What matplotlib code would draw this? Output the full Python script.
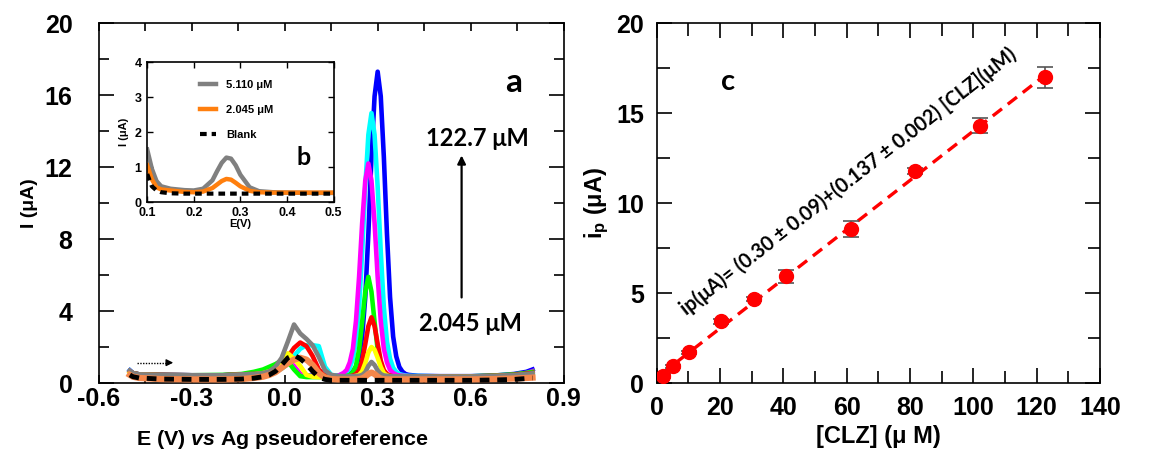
import numpy as np
import matplotlib.pyplot as plt
from matplotlib.ticker import MultipleLocator

plt.rcParams['font.family'] = ['Liberation Sans', 'DejaVu Sans']
plt.rcParams['font.weight'] = 'bold'
plt.rcParams['axes.labelweight'] = 'bold'
plt.rcParams['mathtext.fontset'] = 'custom'
plt.rcParams['mathtext.rm'] = 'Liberation Sans:bold'
plt.rcParams['mathtext.bf'] = 'Liberation Sans:bold'
plt.rcParams['mathtext.it'] = 'Liberation Sans:bold:italic'

# ---- panel a: voltammograms (E in V, I in uA) ----
E = [-0.50, -0.49, -0.47, -0.40, -0.30, -0.20, -0.14, -0.10, -0.07, -0.05,
     -0.03, -0.01, 0.01, 0.03, 0.05, 0.07, 0.09, 0.11, 0.13, 0.15,
     0.17, 0.19, 0.20, 0.21, 0.22, 0.23, 0.24, 0.25, 0.26, 0.27,
     0.28, 0.29, 0.30, 0.31, 0.32, 0.33, 0.34, 0.35, 0.36, 0.37,
     0.38, 0.39, 0.40, 0.43, 0.50, 0.60, 0.68, 0.74, 0.78, 0.80]

i_blue = [0.70, 0.55, 0.48, 0.45, 0.43, 0.43, 0.48, 0.50, 0.55, 0.65,
          0.80, 1.10, 1.20, 0.85, 0.50, 0.42, 0.40, 0.40, 0.40, 0.40,
          0.40, 0.40, 0.43, 0.50, 0.63, 0.89, 1.48, 2.58, 4.77, 8.30,
          12.55, 15.93, 17.30, 15.93, 12.55, 8.30, 4.77, 2.58, 1.48, 0.89,
          0.63, 0.50, 0.45, 0.40, 0.38, 0.38, 0.42, 0.50, 0.62, 0.75]
i_cyan = [0.70, 0.55, 0.48, 0.45, 0.43, 0.43, 0.48, 0.50, 0.52, 0.55,
          0.62, 0.80, 1.05, 1.50, 1.90, 2.10, 2.10, 2.05, 0.90, 0.45,
          0.40, 0.50, 0.62, 0.84, 1.35, 2.30, 4.20, 7.30, 10.90, 13.80,
          15.00, 13.80, 10.90, 7.30, 4.20, 2.30, 1.35, 0.84, 0.62, 0.50,
          0.45, 0.42, 0.40, 0.39, 0.37, 0.37, 0.40, 0.45, 0.52, 0.58]
i_magenta = [0.68, 0.55, 0.48, 0.45, 0.43, 0.43, 0.45, 0.48, 0.55, 0.62,
             0.75, 1.00, 1.25, 0.95, 0.50, 0.38, 0.36, 0.36, 0.36, 0.36,
             0.38, 0.56, 0.73, 1.15, 1.90, 3.45, 5.90, 8.90, 11.25, 12.20,
             11.25, 8.90, 5.90, 3.45, 1.90, 1.15, 0.73, 0.56, 0.46, 0.42,
             0.40, 0.39, 0.38, 0.37, 0.36, 0.37, 0.40, 0.46, 0.56, 0.66]
i_green = [0.65, 0.55, 0.48, 0.45, 0.43, 0.45, 0.50, 0.62, 0.75, 0.90,
           1.05, 1.25, 1.20, 0.75, 0.38, 0.33, 0.33, 0.33, 0.33, 0.33,
           0.34, 0.36, 0.39, 0.45, 0.60, 0.96, 1.85, 3.40, 5.07, 5.90,
           5.07, 3.40, 1.85, 0.96, 0.60, 0.45, 0.39, 0.36, 0.35, 0.35,
           0.35, 0.35, 0.35, 0.35, 0.35, 0.37, 0.42, 0.48, 0.56, 0.62]
i_red = [0.65, 0.55, 0.48, 0.45, 0.43, 0.43, 0.48, 0.50, 0.55, 0.60,
         0.75, 1.10, 1.45, 1.95, 2.25, 2.05, 1.50, 0.75, 0.42, 0.38,
         0.37, 0.36, 0.36, 0.37, 0.41, 0.50, 0.71, 1.24, 2.17, 3.16,
         3.65, 3.16, 2.17, 1.24, 0.71, 0.50, 0.41, 0.37, 0.36, 0.35,
         0.35, 0.35, 0.35, 0.35, 0.35, 0.36, 0.40, 0.45, 0.52, 0.56]
i_yellow = [0.62, 0.52, 0.46, 0.43, 0.42, 0.42, 0.45, 0.48, 0.55, 0.65,
            0.75, 1.10, 1.65, 1.35, 0.95, 0.45, 0.35, 0.33, 0.33, 0.33,
            0.33, 0.33, 0.33, 0.34, 0.36, 0.40, 0.45, 0.65, 1.10, 1.70,
            2.00, 1.85, 1.40, 0.90, 0.55, 0.42, 0.37, 0.35, 0.34, 0.34,
            0.34, 0.34, 0.34, 0.34, 0.34, 0.35, 0.38, 0.42, 0.47, 0.50]
i_gray = [0.68, 0.55, 0.48, 0.45, 0.43, 0.43, 0.48, 0.50, 0.55, 0.65,
          0.90, 1.40, 2.30, 3.25, 2.75, 2.45, 2.10, 1.45, 0.70, 0.45,
          0.40, 0.38, 0.38, 0.38, 0.38, 0.39, 0.40, 0.45, 0.60, 0.95,
          1.17, 1.00, 0.70, 0.50, 0.42, 0.40, 0.38, 0.38, 0.38, 0.38,
          0.38, 0.38, 0.38, 0.37, 0.36, 0.36, 0.40, 0.44, 0.50, 0.54]
i_orange = [0.45, 0.35, 0.28, 0.22, 0.20, 0.20, 0.22, 0.28, 0.35, 0.45,
            0.60, 0.85, 1.10, 1.30, 1.40, 1.30, 1.00, 0.55, 0.30, 0.22,
            0.20, 0.20, 0.20, 0.20, 0.20, 0.20, 0.22, 0.25, 0.35, 0.50,
            0.58, 0.50, 0.35, 0.25, 0.21, 0.20, 0.20, 0.20, 0.20, 0.20,
            0.20, 0.20, 0.20, 0.20, 0.20, 0.20, 0.22, 0.25, 0.28, 0.30]
i_blank = [0.45, 0.35, 0.28, 0.22, 0.20, 0.20, 0.22, 0.27, 0.35, 0.45,
           0.65, 1.00, 1.40, 1.55, 1.35, 1.05, 0.65, 0.32, 0.20, 0.15,
           0.15, 0.15, 0.15, 0.15, 0.15, 0.15, 0.15, 0.15, 0.15, 0.15,
           0.15, 0.15, 0.15, 0.15, 0.15, 0.15, 0.15, 0.15, 0.15, 0.15,
           0.15, 0.15, 0.15, 0.15, 0.15, 0.15, 0.17, 0.20, 0.25, 0.28]

a_xticks = [-0.6, -0.3, 0.0, 0.3, 0.6, 0.9]
a_xlabels = ['-0.6', '-0.3', '0.0', '0.3', '0.6', '0.9']

# ---- panel b: inset zoom on the lowest concentrations ----
E_in = [0.10, 0.11, 0.12, 0.13, 0.15, 0.18, 0.20, 0.22, 0.24, 0.25, 0.26,
        0.27, 0.28, 0.29, 0.30, 0.32, 0.34, 0.37, 0.40, 0.45, 0.50]
in_5110 = [1.50, 0.95, 0.60, 0.45, 0.38, 0.34, 0.33, 0.38, 0.62, 0.88, 1.12,
           1.27, 1.24, 1.05, 0.78, 0.42, 0.31, 0.28, 0.27, 0.26, 0.26]
in_2045 = [1.05, 0.65, 0.42, 0.36, 0.33, 0.29, 0.28, 0.30, 0.40, 0.50, 0.60,
           0.66, 0.64, 0.55, 0.45, 0.32, 0.28, 0.27, 0.27, 0.27, 0.27]
in_blank = [0.80, 0.45, 0.33, 0.28, 0.25, 0.24, 0.24, 0.24, 0.24, 0.24, 0.24,
            0.24, 0.24, 0.24, 0.24, 0.24, 0.24, 0.24, 0.24, 0.24, 0.24]

# ---- panel c: calibration ----
conc = [2.045, 5.11, 10.2, 20.4, 30.6, 40.8, 61.3, 81.7, 102.1, 122.7]
ip = [0.40, 0.92, 1.70, 3.42, 4.68, 5.92, 8.55, 11.78, 14.30, 16.98]
ip_err = [0.10, 0.10, 0.10, 0.12, 0.12, 0.37, 0.46, 0.15, 0.41, 0.57]
fit_x = [2.0, 124.0]
fit_y = [0.57, 17.29]

calib = 'Lato'

fig = plt.figure(figsize=(11.5, 4.53), dpi=100)
ax = fig.add_axes([0.086, 0.1545, 0.404, 0.7945])
axc = fig.add_axes([0.571, 0.1545, 0.3855, 0.7945])
axin = fig.add_axes([0.128, 0.554, 0.162, 0.309])

curves = [(i_blue, '#0000ff'), (i_cyan, '#00ffff'), (i_magenta, '#ff00ff'),
          (i_green, '#00ff00'), (i_red, '#ff0000'), (i_yellow, '#ffff00'),
          (i_gray, '#808080')]
for k, (vals, col) in enumerate(curves):
    ax.plot(E, vals, color=col, lw=3.3, zorder=2 + k * 0.1)
ax.plot(E, i_orange, color='#f4874b', lw=4.5, zorder=3)
ax.plot(E, i_blank, color='k', lw=3.5, ls=(0, (2.0, 1.6)), zorder=3.1)

ax.set_xlim(-0.6, 0.9)
ax.set_ylim(0, 20)
ax.set_xticks(a_xticks, labels=a_xlabels)
ax.xaxis.set_minor_locator(MultipleLocator(0.15))
ax.yaxis.set_major_locator(MultipleLocator(4))
ax.yaxis.set_minor_locator(MultipleLocator(2))
ax.tick_params(which='both', direction='in', top=True, right=True, width=1.2,
               labelsize=18)
ax.tick_params(axis='y', which='major', length=11, pad=19)
ax.tick_params(axis='y', which='minor', length=7)
ax.tick_params(axis='x', which='both', length=6, pad=3)
ax.set_xlabel('E (V) $\\mathit{vs}$ Ag pseudoreference', fontsize=15.4,
              fontweight='bold', labelpad=12, x=0.394)
ax.set_ylabel('I (\u03bcA)', fontsize=14, fontweight='bold', labelpad=5)

# direction of scan + concentration arrow
ax.plot([-0.478, -0.375], [1.13, 1.13], color='k', lw=1, ls=(0, (1, 1)))
ax.annotate('', xy=(-0.351, 1.13), xytext=(-0.38, 1.13),
            arrowprops=dict(arrowstyle='-|>', color='k', lw=1, mutation_scale=10))
ax.annotate('', xy=(0.571, 12.8), xytext=(0.571, 4.6),
            arrowprops=dict(arrowstyle='-|>', color='k', lw=1.6, mutation_scale=12))
ax.text(0.623, 13.6, '122.7 \u03bcM', family=calib, fontsize=17, fontweight='bold',
        ha='center', va='center')
ax.text(0.60, 3.3, '2.045 \u03bcM', family=calib, fontsize=17, fontweight='bold',
        ha='center', va='center')
ax.text(0.74, 16.7, 'a', family=calib, fontsize=24, fontweight='bold',
        ha='center', va='center')

# inset
axin.plot(E_in, in_5110, color='#808080', lw=3.2, label='5.110 \u03bcM')
axin.plot(E_in, in_2045, color='#ff7f0e', lw=3.2, label='2.045 \u03bcM')
axin.plot(E_in, in_blank, color='k', lw=3.0, ls=(0, (1.6, 1.2)), label='Blank')
axin.set_xlim(0.1, 0.5)
axin.set_ylim(0, 4)
axin.xaxis.set_major_locator(MultipleLocator(0.1))
axin.yaxis.set_major_locator(MultipleLocator(1))
axin.tick_params(which='both', direction='in', top=True, right=True, length=4,
                 width=1, labelsize=9)
axin.tick_params(axis='y', pad=4)
axin.tick_params(axis='x', pad=3.5)
axin.set_xlabel('E(V)', fontsize=8, fontweight='bold', labelpad=0)
axin.set_ylabel('I (\u03bcA)', fontsize=8, fontweight='bold', labelpad=4)
leg = axin.legend(frameon=False, loc='upper left', bbox_to_anchor=(0.245, 0.92),
                  fontsize=8, handlelength=1.5, handletextpad=0.9,
                  labelspacing=1.35, borderaxespad=0.2)
for t in leg.get_texts():
    t.set_fontweight('bold')
axin.text(0.435, 1.26, 'b', family=calib, fontsize=18, fontweight='bold',
          ha='center', va='center')

# calibration plot
axc.plot(fit_x, fit_y, color='#ff0000', lw=2.4, ls=(0, (3.5, 2.2)), zorder=2)
axc.errorbar(conc, ip, yerr=ip_err, fmt='o', color='#ff0000', ms=10,
             ecolor='#555555', elinewidth=1.2, capsize=6, capthick=1.2, zorder=3)
axc.set_xlim(0, 140)
axc.set_ylim(0, 20)
axc.xaxis.set_major_locator(MultipleLocator(20))
axc.xaxis.set_minor_locator(MultipleLocator(10))
axc.yaxis.set_major_locator(MultipleLocator(5))
axc.yaxis.set_minor_locator(MultipleLocator(2.5))
axc.tick_params(which='both', direction='in', top=True, right=True, width=1.2,
                labelsize=18, pad=9)
axc.tick_params(which='major', length=11)
axc.tick_params(which='minor', length=9)
axc.set_xlabel('[CLZ] (\u03bc M)', fontsize=17, fontweight='bold', labelpad=4)
axc.set_ylabel('i$_\\mathbf{p}$ (\u03bcA)', fontsize=17, fontweight='bold', labelpad=4)
axc.text(22.4, 16.7, 'c', family=calib, fontsize=21, fontweight='bold',
         ha='center', va='center')
axc.text(60.4, 11.2, 'ip(\u03bcA)= (0.30 \u00b1 0.09)+(0.137 \u00b1 0.002) [CLZ](\u03bcM)',
         family=calib, fontsize=14.3, fontweight='bold', rotation=38,
         rotation_mode='anchor', ha='center', va='center')

for a in (ax, axc, axin):
    for s in a.spines.values():
        s.set_linewidth(1.2)
    for lab in a.get_xticklabels() + a.get_yticklabels():
        lab.set_fontweight('bold')

fig.savefig('out.png', dpi=100)
